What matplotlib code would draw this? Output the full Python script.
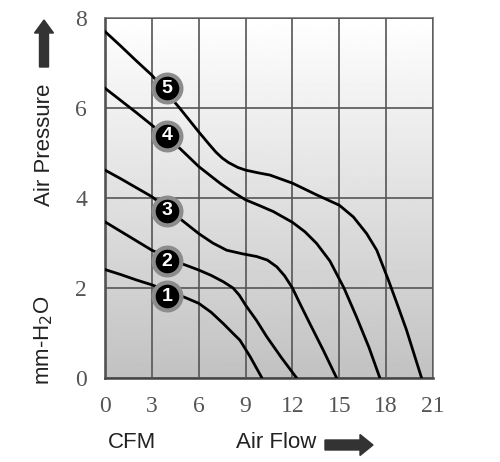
"""
fan-pq-curve.py — ファン静圧特性曲線（5 段階の回転数）
"""
import numpy as np
import matplotlib.pyplot as plt
from matplotlib.patches import FancyArrow

# 読み取り値（CFM, mm-H2O）
flow1 = [0, 1, 2, 3, 5.12, 6, 6.8, 7.57, 8.2, 8.64, 9.3, 10.05]
pres1 = [2.41, 2.30, 2.18, 2.07, 1.79, 1.66, 1.46, 1.21, 0.99, 0.84, 0.47, 0]

flow2 = [0, 1, 2, 3, 5.0, 6, 6.8, 7.57, 8.2, 8.6, 9, 9.7, 10.35, 11.3, 12.27]
pres2 = [3.47, 3.26, 3.05, 2.84, 2.53, 2.40, 2.28, 2.14, 2.0, 1.84, 1.62, 1.28, 0.92, 0.45, 0]

flow3 = [0, 1, 2, 3, 4.91, 6, 6.9, 7.79, 8.8, 9.71, 10.4, 11.0, 11.5, 12.0, 12.5, 13.1, 14.0, 14.83]
pres3 = [4.62, 4.43, 4.23, 4.03, 3.51, 3.21, 3.0, 2.84, 2.76, 2.70, 2.62, 2.47, 2.27, 2.0, 1.64, 1.22, 0.60, 0]

flow4 = [0, 1, 2, 3, 4.8, 6, 7.36, 8.2, 9, 9.9, 10.77, 12, 12.8, 13.55, 14.4, 15.3, 16.1, 16.9, 17.6]
pres4 = [6.44, 6.17, 5.90, 5.62, 5.10, 4.70, 4.33, 4.13, 3.96, 3.83, 3.70, 3.46, 3.25, 2.99, 2.60, 2.0, 1.36, 0.68, 0]

flow5 = [0, 1, 2, 3, 4.8, 6, 6.7, 7.1, 7.5, 7.9, 8.5, 9, 9.8, 10.56, 12, 13.55, 15, 15.9, 16.75, 17.4,
         18.14, 18.7, 19.3, 20.27]
pres5 = [7.70, 7.38, 7.05, 6.73, 5.99, 5.47, 5.18, 5.02, 4.89, 4.79, 4.68, 4.62, 4.56, 4.51, 4.33,
         4.07, 3.84, 3.58, 3.21, 2.84, 2.18, 1.65, 1.07, 0]

curves = [(flow1, pres1), (flow2, pres2), (flow3, pres3), (flow4, pres4), (flow5, pres5)]

# 番号マーカーの位置
badge_labels = ["1", "2", "3", "4", "5"]
badge_x = [3.95, 3.95, 3.95, 3.95, 3.95]
badge_y = [1.82, 2.60, 3.72, 5.38, 6.44]

xticks = [0, 3, 6, 9, 12, 15, 18, 21]
yticks = [0, 2, 4, 6, 8]

fig = plt.figure(figsize=(5, 4.62), dpi=100)
ax = fig.add_axes([0.21, 0.1818, 0.656, 0.7792])

# 背景のグラデーション（上が白、下が灰色）
grad = np.linspace(1.0, 0.76, 256)[:, None]
ax.imshow(grad, extent=[0, 21, 0, 8], aspect="auto", cmap="gray",
          vmin=0, vmax=1, zorder=0)

for fx, py in curves:
    ax.plot(fx, py, color="black", lw=2.0, zorder=3, solid_joinstyle="round")

for lab, bx, by in zip(badge_labels, badge_x, badge_y):
    ax.plot(bx, by, "o", ms=20, mfc="black", mec="#8c8c8c", mew=3, zorder=5)
    ax.text(bx, by, lab, color="white", ha="center", va="center",
            fontsize=14, fontweight="bold", family="Liberation Sans", zorder=6)

ax.set_xlim(0, 21)
ax.set_ylim(0, 8)
ax.set_xticks(xticks)
ax.set_yticks(yticks)
ax.grid(True, color="#555555", lw=1.2)
ax.set_axisbelow(False)
for gl in ax.get_xgridlines() + ax.get_ygridlines():
    gl.set_zorder(1)
ax.tick_params(length=0, pad=13, labelsize=17, labelcolor="#555555")
for t in ax.get_xticklabels() + ax.get_yticklabels():
    t.set_family("Liberation Serif")

for s in ["left", "bottom"]:
    ax.spines[s].set_color("#444444")
    ax.spines[s].set_linewidth(1.8)
for s in ["top", "right"]:
    ax.spines[s].set_color("#777777")
    ax.spines[s].set_linewidth(1.2)

# 軸ラベルと矢印
fig.text(0.088, 0.686, "Air Pressure", rotation=90, ha="center", va="center",
         fontsize=16, family="Liberation Sans", color="#222222")
fig.text(0.088, 0.264, "mm-H$_2$O", rotation=90, ha="center", va="center",
         fontsize=16, family="Liberation Sans", color="#222222")
fig.text(0.264, 0.043, "CFM", ha="center", va="center",
         fontsize=16, family="Liberation Sans", color="#222222")
fig.text(0.553, 0.043, "Air Flow", ha="center", va="center",
         fontsize=16, family="Liberation Sans", color="#222222")

fig.patches.append(FancyArrow(0.44, 3.95, 0, 0.47, width=0.09, head_width=0.19,
                              head_length=0.13, length_includes_head=True,
                              color="#333333", transform=fig.dpi_scale_trans))
fig.patches.append(FancyArrow(3.25, 0.17, 0.48, 0, width=0.10, head_width=0.21,
                              head_length=0.13, length_includes_head=True,
                              color="#333333", transform=fig.dpi_scale_trans))

fig.savefig("out.png", dpi=100, facecolor="white")
